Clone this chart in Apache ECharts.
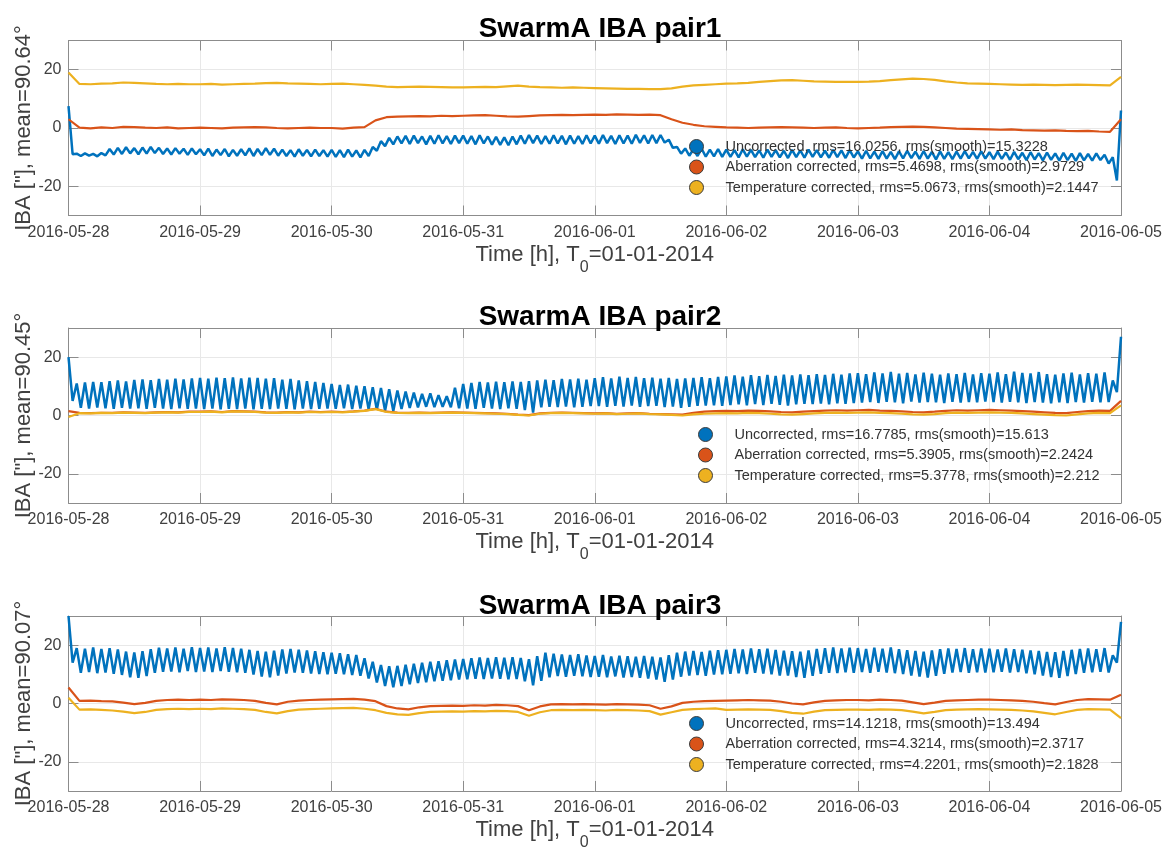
<!DOCTYPE html>
<html>
<head>
<meta charset="utf-8">
<script src="https://cdn.jsdelivr.net/npm/echarts@6/dist/echarts.min.js"></script>
<style>
  html, body { margin: 0; padding: 0; background: #fff; }
  #chart { width: 1169px; height: 854px; }
</style>
</head>
<body>
<div id="chart"></div>
<script>
// day ticks of the x axis (value axis in hours from 2016-05-28 00:00)
var dayLabels = ['2016-05-28', '2016-05-29', '2016-05-30', '2016-05-31', '2016-06-01',
	'2016-06-02', '2016-06-03', '2016-06-04', '2016-06-05'];
var yTicks = [-20, 0, 20];
var fastStep = 0.75; // hours between samples of the uncorrected series
var slowStep = 2;    // hours between samples of the corrected series

var titles = ['SwarmA IBA pair1', 'SwarmA IBA pair2', 'SwarmA IBA pair3'];
var yNames = ['IBA ["], mean=90.64°', 'IBA ["], mean=90.45°', 'IBA ["], mean=90.07°'];
var legendNames = [
	['Uncorrected, rms=16.0256, rms(smooth)=15.3228', 'Aberration corrected, rms=5.4698, rms(smooth)=2.9729', 'Temperature corrected, rms=5.0673, rms(smooth)=2.1447'],
	['Uncorrected, rms=16.7785, rms(smooth)=15.613', 'Aberration corrected, rms=5.3905, rms(smooth)=2.2424', 'Temperature corrected, rms=5.3778, rms(smooth)=2.212'],
	['Uncorrected, rms=14.1218, rms(smooth)=13.494', 'Aberration corrected, rms=4.3214, rms(smooth)=2.3717', 'Temperature corrected, rms=4.2201, rms(smooth)=2.1828']
];

// pair1
var p1Uncorrected = [
	7.5, -9.0, -8.8, -9.6, -8.7, -9.5, -8.9, -9.7, -8.6, -9.4, -7.2, -9.1, -6.8, -8.9, -6.6, -8.7, -6.9, -9.0, -6.7, -8.8, -6.5, -8.6, -6.8, -8.9, -7.0, -9.1, -6.9, -8.8, -7.1, -9.2, -7.0, -9.0,
	-7.3, -9.4, -7.1, -9.6, -7.4, -9.3, -7.2, -9.7, -7.5, -9.5, -7.3, -9.4, -7.0, -9.6, -7.2, -9.3, -6.9, -9.2, -7.1, -9.5, -7.4, -9.6, -7.6, -9.8, -7.3, -9.5, -7.5, -9.7, -7.4, -9.6, -7.6, -9.8,
	-7.5, -9.9, -7.6, -10.0, -7.4, -9.8, -7.7, -10.1, -7.5, -9.6, -6.5, -7.8, -4.5, -6.2, -3.4, -5.6, -2.9, -5.3, -2.7, -5.5, -2.6, -5.2, -2.9, -5.6, -2.7, -5.4, -2.5, -5.3, -2.8, -5.5, -2.6, -5.2,
	-2.6, -5.4, -2.8, -5.6, -2.5, -5.3, -2.9, -5.7, -3.0, -5.8, -3.2, -5.9, -2.9, -5.6, -2.6, -5.4, -2.4, -5.2, -2.6, -5.5, -2.8, -5.4, -2.5, -5.3, -2.7, -5.6, -2.6, -5.4, -2.8, -5.5, -2.5, -5.3,
	-2.6, -5.4, -2.4, -5.2, -2.7, -5.5, -2.5, -5.3, -2.6, -5.4, -2.3, -5.1, -2.5, -5.3, -2.4, -5.2, -2.4, -5.0, -4.0, -6.8, -6.5, -8.8, -7.0, -9.5, -7.3, -9.6, -7.1, -9.8, -7.4, -9.7, -7.2, -9.9,
	-7.4, -9.9, -7.6, -10.1, -7.3, -9.8, -7.5, -10.0, -7.7, -10.2, -7.4, -9.9, -7.6, -10.1, -7.8, -10.3, -7.5, -10.0, -7.7, -10.2, -7.4, -9.9, -7.6, -10.1, -7.8, -10.2, -7.5, -10.0, -7.7, -10.3, -7.6, -10.1,
	-8.0, -10.5, -7.8, -10.4, -8.1, -10.6, -7.9, -10.5, -8.2, -10.7, -8.0, -10.4, -7.8, -10.3, -8.1, -10.6, -7.9, -10.5, -8.2, -10.8, -8.0, -10.6, -8.3, -10.7, -8.1, -10.5, -7.9, -10.4, -8.2, -10.6, -8.0, -10.5,
	-8.3, -10.7, -8.1, -10.6, -8.4, -10.9, -8.2, -10.7, -8.5, -11.0, -8.3, -10.8, -8.6, -11.1, -8.4, -10.9, -8.7, -11.2, -8.5, -11.0, -8.8, -11.3, -8.6, -11.1, -8.9, -11.2, -8.7, -11.0, -9.2, -12.2, -10.0, -18.0,
	6.0
];
var p1Aberration = [
	3.0, 0.1, -0.1, 0.2, 0.0, 0.4, 0.3, 0.1, 0.0, 0.2, -0.1, 0.0,
	0.1, 0.0, -0.1, 0.1, 0.2, 0.3, 0.2, 0.0, -0.1, 0.0, 0.1, 0.0,
	0.0, -0.2, 0.1, 0.3, 2.6, 3.7, 3.9, 4.0, 4.1, 4.0, 4.2, 4.1,
	4.2, 4.3, 4.4, 4.2, 4.0, 3.9, 4.1, 4.3, 4.4, 4.5, 4.4, 4.5,
	4.6, 4.5, 4.7, 4.6, 4.5, 4.6, 4.4, 3.0, 1.8, 1.1, 0.6, 0.4,
	0.2, 0.1, 0.0, 0.1, 0.2, 0.3, 0.2, 0.1, 0.0, 0.1, 0.2, 0.0,
	-0.1, 0.0, 0.1, 0.3, 0.4, 0.5, 0.4, 0.2, 0.0, -0.2, -0.3, -0.4,
	-0.5, -0.6, -0.5, -0.7, -0.8, -0.9, -0.8, -1.0, -1.1, -1.0, -1.2, -1.3,
	3.0
];
var p1Temperature = [
	19.0, 15.1, 15.0, 15.2, 15.3, 15.6, 15.5, 15.3, 15.1, 15.0, 15.1, 15.0,
	15.0, 15.1, 14.9, 15.0, 15.1, 15.2, 15.4, 15.5, 15.3, 15.2, 15.1, 15.0,
	15.1, 15.2, 15.0, 14.8, 14.5, 14.2, 14.0, 14.1, 14.2, 14.1, 14.0, 13.9,
	13.9, 14.0, 14.1, 14.0, 14.3, 14.5, 14.2, 14.0, 13.9, 13.8, 13.9, 13.8,
	13.7, 13.6, 13.5, 13.4, 13.4, 13.3, 13.3, 13.6, 14.2, 14.6, 14.8, 15.0,
	15.2, 15.3, 15.5, 15.8, 16.1, 16.3, 16.4, 16.2, 16.0, 15.9, 15.8, 15.8,
	15.8, 15.9, 16.1, 16.4, 16.7, 16.9, 16.8, 16.5, 16.0, 15.6, 15.3, 15.2,
	15.1, 15.0, 14.9, 14.8, 14.9, 14.8, 14.7, 14.8, 14.9, 14.8, 14.7, 14.6,
	17.5
];

// pair2
var p2Uncorrected = [
	20.0, 5.0, 11.0, 2.6, 11.3, 2.4, 11.5, 2.7, 11.4, 2.5, 11.8, 2.3, 12.0, 2.6, 11.7, 2.4, 12.2, 2.5, 12.4, 2.3, 12.1, 2.6, 12.5, 2.4, 12.3, 2.2, 12.6, 2.5, 12.4, 2.3, 12.7, 2.4,
	12.9, 2.2, 12.6, 2.4, 13.0, 2.1, 12.8, 2.3, 13.1, 2.2, 12.7, 2.4, 13.0, 2.1, 12.9, 2.3, 12.6, 2.2, 12.8, 2.4, 12.3, 2.3, 12.5, 2.1, 12.0, 2.4, 11.8, 2.2, 11.5, 2.3, 11.2, 2.4,
	10.8, 2.3, 10.5, 2.5, 10.6, 2.2, 10.2, 2.4, 10.0, 2.1, 9.7, 2.0, 9.4, 1.6, 9.0, 1.5, 8.6, 2.2, 8.2, 2.6, 7.9, 2.8, 7.4, 3.0, 7.6, 2.9, 7.0, 3.0, 6.6, 2.8, 9.5, 2.5,
	10.8, 2.4, 11.2, 2.3, 11.5, 2.6, 11.3, 2.4, 11.6, 2.2, 11.4, 2.5, 11.7, 2.3, 11.5, 1.9, 11.8, 1.0, 12.0, 2.8, 12.3, 3.0, 12.1, 2.9, 12.5, 3.1, 12.4, 2.8, 12.6, 3.0, 12.3, 3.2,
	12.8, 3.2, 13.1, 3.0, 12.7, 3.3, 13.3, 3.1, 12.9, 3.4, 13.2, 3.0, 12.8, 3.2, 13.0, 3.3, 12.6, 2.9, 12.9, 3.1, 12.5, 2.6, 12.7, 3.0, 12.9, 3.3, 13.1, 3.4, 12.8, 3.5, 13.2, 3.3,
	13.4, 3.6, 13.7, 3.8, 13.3, 3.5, 13.8, 3.9, 13.5, 3.6, 13.9, 4.0, 13.6, 3.7, 14.0, 3.4, 13.7, 3.8, 14.1, 4.0, 13.8, 3.9, 14.2, 4.1, 13.9, 3.8, 14.3, 4.2, 14.0, 4.0, 14.4, 4.3,
	14.5, 4.4, 14.2, 4.6, 14.8, 4.3, 14.4, 4.7, 14.9, 4.5, 14.3, 4.2, 14.6, 4.8, 14.1, 4.4, 14.7, 4.6, 14.3, 4.5, 14.0, 4.3, 14.4, 4.7, 14.2, 4.4, 14.6, 4.6, 14.1, 4.5, 14.5, 4.8,
	14.3, 4.6, 14.8, 4.4, 14.2, 4.7, 15.0, 4.5, 14.6, 4.3, 14.4, 4.6, 14.9, 4.4, 14.2, 4.2, 14.0, 4.5, 14.4, 4.3, 14.7, 4.6, 14.1, 4.4, 14.5, 4.7, 14.3, 4.5, 14.8, 4.6, 12.0, 8.0,
	27.0
];
var p2Aberration = [
	1.5, 0.9, 0.8, 0.9, 0.9, 1.1, 1.0, 0.9, 1.1, 1.2, 1.1, 1.3,
	1.3, 1.4, 1.2, 1.5, 1.4, 1.3, 1.1, 1.0, 1.2, 1.1, 1.3, 1.2,
	1.3, 1.2, 1.4, 1.7, 2.3, 1.3, 1.0, 0.9, 1.0, 0.9, 1.0, 1.1,
	1.0, 0.9, 0.8, 0.7, 0.6, 0.3, 0.1, 0.7, 0.9, 1.0, 0.9, 0.8,
	0.7, 0.8, 0.6, 0.7, 0.8, 0.6, 0.5, 0.4, 0.3, 0.9, 1.3, 1.5,
	1.6, 1.5, 1.7, 1.6, 1.4, 1.2, 1.1, 1.3, 1.5, 1.7, 1.8, 1.7,
	1.8, 1.9, 1.7, 1.6, 1.4, 1.2, 1.1, 1.3, 1.6, 1.8, 1.7, 1.8,
	1.9, 1.8, 1.7, 1.5, 1.3, 1.1, 0.9, 0.8, 1.2, 1.5, 1.7, 1.6,
	5.0
];
var p2Temperature = [
	-0.5, 0.8, 0.7, 0.9, 0.8, 1.0, 0.9, 0.8, 1.0, 1.1, 1.0, 1.2,
	1.2, 1.3, 1.1, 1.4, 1.3, 1.2, 1.0, 0.9, 1.1, 1.0, 1.2, 1.1,
	1.2, 1.1, 1.3, 1.6, 2.2, 1.2, 0.9, 0.8, 0.9, 0.8, 0.9, 1.0,
	0.9, 0.8, 0.7, 0.6, 0.5, 0.2, 0.0, 0.6, 0.8, 0.9, 0.8, 0.7,
	0.6, 0.7, 0.5, 0.6, 0.7, 0.5, 0.4, 0.2, 0.0, 0.4, 0.6, 0.7,
	0.8, 0.7, 0.9, 0.8, 0.6, 0.4, 0.3, 0.5, 0.7, 0.9, 1.0, 0.9,
	1.0, 1.1, 0.9, 0.8, 0.6, 0.4, 0.3, 0.5, 0.8, 1.0, 0.9, 1.0,
	1.1, 1.0, 0.9, 0.7, 0.5, 0.3, 0.1, 0.0, 0.4, 0.7, 0.9, 0.8,
	3.5
];

// pair3
var p3Uncorrected = [
	30.0, 14.0, 19.0, 10.5, 18.8, 10.8, 19.2, 10.4, 18.7, 10.6, 19.0, 10.2, 18.5, 9.8, 17.8, 9.0, 17.5, 8.8, 17.9, 9.4, 18.6, 10.5, 19.1, 10.9, 18.9, 11.0, 19.2, 10.7, 18.8, 11.1, 19.3, 10.8,
	19.0, 11.0, 19.2, 10.8, 18.9, 11.1, 19.3, 10.9, 19.0, 10.7, 18.8, 10.5, 18.4, 9.9, 18.0, 9.2, 17.8, 9.0, 18.1, 9.6, 18.5, 10.3, 18.7, 10.6, 18.4, 10.5, 18.2, 10.3, 17.9, 10.1, 17.6, 10.0,
	17.4, 10.2, 17.2, 10.0, 16.9, 9.8, 16.6, 9.5, 15.5, 8.6, 14.3, 7.2, 13.2, 6.0, 12.8, 5.6, 12.9, 6.0, 13.3, 6.6, 13.6, 7.0, 14.0, 7.3, 14.3, 7.6, 14.5, 7.8, 14.8, 8.0, 15.1, 8.2,
	15.3, 8.3, 15.5, 8.5, 15.8, 8.4, 15.6, 8.6, 15.9, 8.5, 15.7, 8.3, 15.9, 8.4, 15.6, 7.6, 15.2, 6.2, 16.2, 7.8, 17.4, 9.0, 17.1, 9.4, 16.8, 9.2, 16.6, 9.5, 16.9, 9.3, 16.5, 9.1,
	16.3, 9.2, 16.6, 9.0, 16.1, 9.3, 16.4, 8.9, 16.2, 9.1, 16.0, 8.8, 16.3, 8.6, 16.0, 8.2, 15.8, 7.4, 16.6, 8.2, 17.4, 9.2, 17.8, 9.6, 18.0, 9.8, 17.7, 9.5, 18.1, 9.9, 18.3, 10.0,
	18.4, 10.2, 18.7, 10.4, 18.5, 10.1, 18.9, 10.5, 18.6, 10.3, 18.8, 10.0, 18.4, 9.6, 18.1, 9.6, 17.9, 9.1, 17.8, 8.8, 18.2, 9.5, 18.7, 10.2, 19.0, 10.5, 19.2, 10.4, 18.9, 10.7, 19.1, 10.5,
	19.0, 10.8, 18.7, 10.5, 19.1, 10.9, 18.8, 10.6, 19.2, 10.4, 18.6, 10.1, 18.3, 9.6, 18.0, 9.2, 17.8, 8.9, 18.2, 9.5, 18.6, 10.2, 18.9, 10.6, 18.7, 10.8, 19.0, 10.5, 18.6, 10.7, 18.9, 10.6,
	18.8, 10.7, 18.5, 10.9, 18.9, 10.6, 18.6, 10.8, 18.4, 10.4, 18.2, 10.0, 18.0, 9.6, 17.7, 9.1, 17.6, 8.8, 18.0, 9.4, 18.4, 10.1, 18.7, 10.5, 18.9, 10.7, 18.6, 10.9, 19.0, 10.6, 16.5, 14.0,
	28.0
];
var p3Aberration = [
	5.5, 0.9, 1.0, 0.8, 0.7, 0.3, -0.2, 0.2, 0.9, 1.2, 1.3, 1.2,
	1.3, 1.2, 1.4, 1.3, 1.2, 0.9, 0.2, -0.3, 0.6, 1.0, 1.2, 1.3,
	1.4, 1.5, 1.6, 1.3, 0.8, -0.9, -1.7, -2.0, -1.3, -0.9, -0.8, -0.7,
	-0.8, -0.6, -0.7, -0.5, -0.6, -0.9, -2.3, -1.0, -0.3, -0.2, -0.3, -0.2,
	-0.3, -0.4, -0.2, -0.3, -0.4, -0.6, -1.8, -1.0, 0.2, 0.6, 0.8, 0.9,
	1.0, 1.1, 1.2, 1.1, 1.0, 0.6, 0.0, -0.3, 0.4, 0.9, 1.1, 1.2,
	1.2, 1.1, 1.3, 1.2, 1.0, 0.4, -0.2, 0.3, 0.9, 1.1, 1.2, 1.3,
	1.3, 1.2, 1.1, 0.9, 0.6, 0.1, -0.3, 0.5, 1.2, 1.5, 1.4, 1.3,
	3.0
];
var p3Temperature = [
	2.0, -2.1, -2.0, -2.2, -2.4, -2.8, -3.3, -2.9, -2.2, -1.9, -1.8, -1.9,
	-1.8, -1.9, -1.7, -1.8, -1.9, -2.2, -2.9, -3.4, -2.6, -2.1, -1.9, -1.8,
	-1.7, -1.6, -1.5, -1.8, -2.3, -3.2, -3.7, -3.9, -3.3, -2.9, -2.8, -2.7,
	-2.8, -2.6, -2.7, -2.5, -2.6, -2.9, -4.2, -3.0, -2.3, -2.2, -2.3, -2.2,
	-2.3, -2.4, -2.2, -2.3, -2.4, -2.6, -3.8, -3.0, -2.2, -1.9, -1.8, -1.7,
	-2.2, -2.1, -2.0, -2.1, -2.2, -2.6, -3.2, -3.5, -2.8, -2.3, -2.2, -2.1,
	-2.1, -2.2, -2.0, -2.1, -2.3, -2.8, -3.4, -2.9, -2.3, -2.1, -2.0, -1.9,
	-2.0, -2.1, -2.2, -2.4, -2.7, -3.2, -3.7, -2.9, -2.2, -1.9, -2.0, -2.1,
	-5.0
];

var uncorrected = [p1Uncorrected, p2Uncorrected, p3Uncorrected];
var aberration = [p1Aberration, p2Aberration, p3Aberration];
var temperature = [p1Temperature, p2Temperature, p3Temperature];

var colors = ['#0072BD', '#D95319', '#EDB120'];
var lineWidths = [2.5, 2.2, 2.2];
var FONT = '"Liberation Sans", Arial, Helvetica, sans-serif';
var axisGrey = '#8c8c8c';
var gridTops = [40.5, 328, 616];
var titleTops = [10, 298.5, 587];
var legendPos = [[684, 134], [693, 422], [684, 711]];

function toPoints(values, step) {
	return values.map(function(v, i) {
		return [i * step, v];
	});
}

var grid = [], xAxis = [], yAxis = [], title = [], legend = [], series = [];

for (var p = 0; p < 3; p++) {
	grid.push({left: 68.5, right: 48, top: gridTops[p], height: 175});

	title.push({
		text: titles[p],
		left: 595, top: titleTops[p],
		textAlign: 'center',
		textStyle: {fontFamily: FONT, fontSize: 28, fontWeight: 'bold', color: '#000'}
	});

	// bottom axis with labels
	xAxis.push({
		type: 'value', gridIndex: p, min: 0, max: 192, interval: 24,
		position: 'bottom',
		axisLine: {show: true, onZero: false, lineStyle: {color: axisGrey, width: 1}},
		axisTick: {show: true, inside: true, length: 10, lineStyle: {color: axisGrey}},
		axisLabel: {
			show: true, margin: 9, fontSize: 16, color: '#404040', fontFamily: FONT,
			showMinLabel: true, showMaxLabel: true,
			formatter: function(v) {
				return dayLabels[Math.round(v / 24)];
			}
		},
		splitLine: {show: true, lineStyle: {color: '#e8e8e8', width: 1}},
		name: '{a|Time [h], T}{s|0}{a|=01-01-2014}',
		nameLocation: 'middle',
		nameGap: 28,
		nameMoveOverlap: false,
		nameTextStyle: {
			rich: {
				a: {fontFamily: FONT, fontSize: 22, color: '#404040', verticalAlign: 'top'},
				s: {fontFamily: FONT, fontSize: 16, color: '#404040', verticalAlign: 'top', padding: [16, 0, 0, 0]}
			}
		}
	});
	// top axis, ticks only (box)
	xAxis.push({
		type: 'value', gridIndex: p, min: 0, max: 192, interval: 24,
		position: 'top',
		axisLine: {show: true, onZero: false, lineStyle: {color: axisGrey, width: 1}},
		axisTick: {show: true, inside: true, length: 10, lineStyle: {color: axisGrey}},
		axisLabel: {show: false},
		splitLine: {show: false}
	});

	yAxis.push({
		type: 'value', gridIndex: p, min: -30, max: 30,
		position: 'left',
		axisLine: {show: true, onZero: false, lineStyle: {color: axisGrey, width: 1}},
		axisTick: {show: true, inside: true, length: 10, lineStyle: {color: axisGrey}, customValues: yTicks},
		axisLabel: {show: true, margin: 7, fontSize: 16, color: '#404040', fontFamily: FONT, customValues: yTicks},
		splitLine: {show: true, lineStyle: {color: '#e8e8e8', width: 1}},
		name: yNames[p],
		nameLocation: 'middle',
		nameGap: 34,
		nameMoveOverlap: false,
		nameTextStyle: {fontFamily: FONT, fontSize: 22, color: '#404040'}
	});
	yAxis.push({
		type: 'value', gridIndex: p, min: -30, max: 30,
		position: 'right',
		axisLine: {show: true, onZero: false, lineStyle: {color: axisGrey, width: 1}},
		axisTick: {show: true, inside: true, length: 10, lineStyle: {color: axisGrey}, customValues: yTicks},
		axisLabel: {show: false},
		splitLine: {show: false}
	});

	legend.push({
		left: legendPos[p][0], top: legendPos[p][1],
		orient: 'vertical',
		icon: 'circle',
		itemWidth: 48, itemHeight: 14, itemGap: 5.5,
		selectedMode: false,
		data: legendNames[p],
		itemStyle: {borderColor: '#3c3c3c', borderWidth: 1},
		textStyle: {fontFamily: FONT, fontSize: 14.5, color: '#333', lineHeight: 14}
	});

	var sets = [
		toPoints(uncorrected[p], fastStep),
		toPoints(aberration[p], slowStep),
		toPoints(temperature[p], slowStep)
	];
	for (var k = 0; k < 3; k++) {
		series.push({
			name: legendNames[p][k],
			type: 'line',
			xAxisIndex: 2 * p,
			yAxisIndex: 2 * p,
			data: sets[k],
			showSymbol: false,
			symbol: 'circle',
			color: colors[k],
			itemStyle: {color: colors[k]},
			lineStyle: {color: colors[k], width: lineWidths[k]},
			animation: false,
			silent: true
		});
	}
}

var chart = echarts.init(document.getElementById('chart'));
chart.setOption({
	backgroundColor: '#fff',
	animation: false,
	title: title,
	grid: grid,
	xAxis: xAxis,
	yAxis: yAxis,
	legend: legend,
	series: series
});
</script>
</body>
</html>
